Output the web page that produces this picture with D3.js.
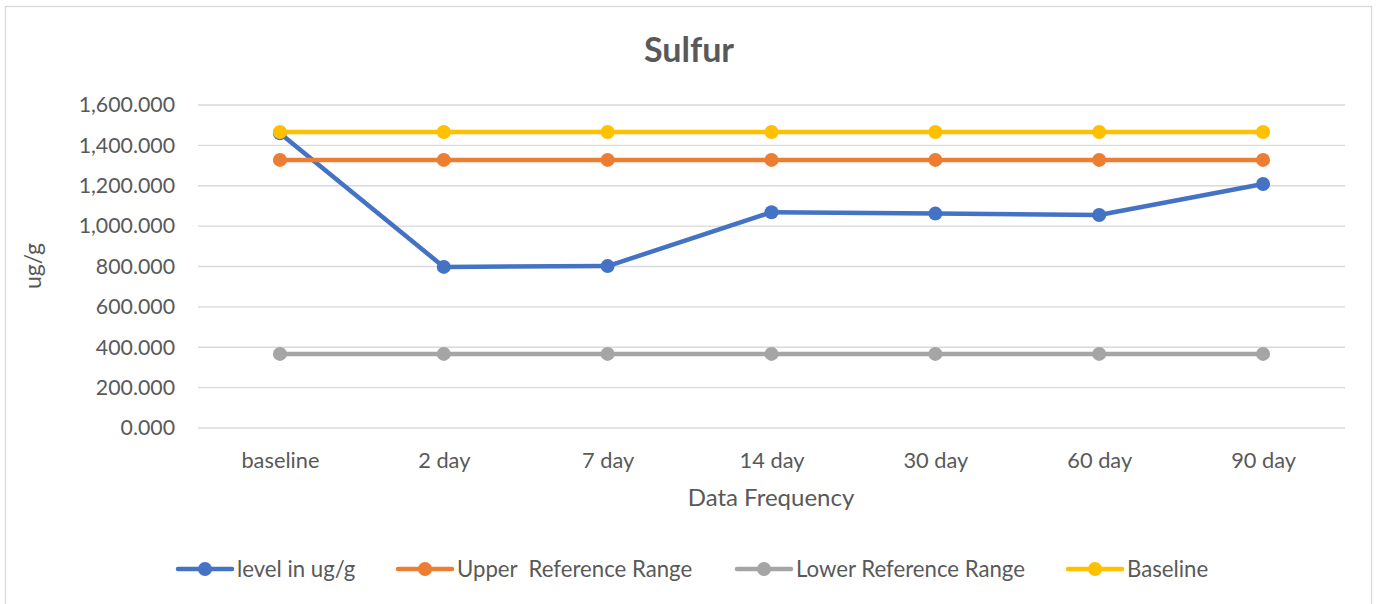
<!DOCTYPE html>
<html>
<head>
<meta charset="utf-8">
<script src="https://cdn.jsdelivr.net/npm/d3@7"></script>
<style>
  html, body { margin: 0; padding: 0; background: #fff; }
  text { font-family: Lato, "Open Sans", sans-serif; fill: #595959; }
</style>
</head>
<body>
<svg id="chart" width="1377" height="604"></svg>
<script>
const categories = ["baseline", "2 day", "7 day", "14 day", "30 day", "60 day", "90 day"];
const levelValues = [1460, 798, 802, 1069, 1062, 1055, 1209];
const upperValues = [1328, 1328, 1328, 1328, 1328, 1328, 1328];
const lowerValues = [367, 367, 367, 367, 367, 367, 367];
const baselineValues = [1466, 1466, 1466, 1466, 1466, 1466, 1466];
const seriesNames = ["level in ug/g", "Upper  Reference Range", "Lower Reference Range", "Baseline"];
const seriesColors = ["#4472C4", "#ED7D31", "#A5A5A5", "#FFC000"];
const yTicks = [0, 200, 400, 600, 800, 1000, 1200, 1400, 1600];

const series = [levelValues, upperValues, lowerValues, baselineValues].map((v, i) => ({
  name: seriesNames[i], color: seriesColors[i], values: v
}));

const svg = d3.select("#chart");

// chart border
svg.append("rect").attr("x", 5.5).attr("y", 6.5).attr("width", 1366).attr("height", 610)
  .attr("fill", "#fff").attr("stroke", "#D9D9D9").attr("stroke-width", 1.3);

const pLeft = 198, pRight = 1345, pTop = 105, pBottom = 428;

const x = d3.scalePoint().domain(categories).range([pLeft, pRight]).padding(0.5);
const y = d3.scaleLinear().domain([0, 1600]).range([pBottom, pTop]);

// gridlines
svg.append("g").selectAll("line").data(yTicks).join("line")
  .attr("x1", pLeft).attr("x2", pRight)
  .attr("y1", d => y(d)).attr("y2", d => y(d))
  .attr("stroke", "#D9D9D9").attr("stroke-width", 1.3);

// y axis labels
const yAxis = d3.axisLeft(y).tickValues(yTicks).tickSize(0).tickPadding(0)
  .tickFormat(d => d3.format(",.3f")(d));
const yg = svg.append("g").attr("transform", `translate(175,0)`).call(yAxis);
yg.select(".domain").remove();
yg.selectAll("text").attr("font-size", 21.3).attr("fill", "#595959")
  .style("font-family", "Lato, sans-serif");

// x axis labels
const xAxis = d3.axisBottom(x).tickSize(0).tickPadding(0);
const xg = svg.append("g").attr("transform", `translate(0,${pBottom})`).call(xAxis);
xg.select(".domain").remove();
xg.selectAll("text").attr("font-size", 21.8).attr("fill", "#595959")
  .attr("y", 32).attr("dy", "0.35em")
  .style("font-family", "Lato, sans-serif");

// lines & markers
const line = d3.line().x((d, i) => x(categories[i])).y(d => y(d));
series.forEach(s => {
  const g = svg.append("g");
  g.append("path").datum(s.values).attr("d", line)
    .attr("fill", "none").attr("stroke", s.color).attr("stroke-width", 4.5)
    .attr("stroke-linejoin", "round").attr("stroke-linecap", "round");
  g.selectAll("circle").data(s.values).join("circle")
    .attr("cx", (d, i) => x(categories[i])).attr("cy", d => y(d)).attr("r", 7)
    .attr("fill", s.color);
});

// title
svg.append("text").attr("x", 689).attr("y", 62).attr("text-anchor", "middle")
  .attr("font-size", 34).attr("font-weight", "bold").text("Sulfur");

// axis titles
svg.append("text").attr("x", 771).attr("y", 498).attr("dy", "0.35em").attr("text-anchor", "middle")
  .attr("font-size", 24).text("Data Frequency");
svg.append("text").attr("transform", "translate(41,266) rotate(-90)")
  .attr("text-anchor", "middle").attr("font-size", 23).text("ug/g");

// legend
const legendX = [178, 398, 737, 1068];
const leg = svg.append("g").selectAll("g").data(series).join("g")
  .attr("transform", (d, i) => `translate(${legendX[i]},569)`);
leg.append("line").attr("x1", 0).attr("x2", 54).attr("y1", 0).attr("y2", 0)
  .attr("stroke", d => d.color).attr("stroke-width", 4.5).attr("stroke-linecap", "round");
leg.append("circle").attr("cx", 27).attr("cy", 0).attr("r", 7).attr("fill", d => d.color);
leg.append("text").attr("x", 59).attr("y", 0).attr("dy", "0.35em")
  .attr("font-size", 22.2).style("white-space", "pre").text(d => d.name);
</script>
</body>
</html>
